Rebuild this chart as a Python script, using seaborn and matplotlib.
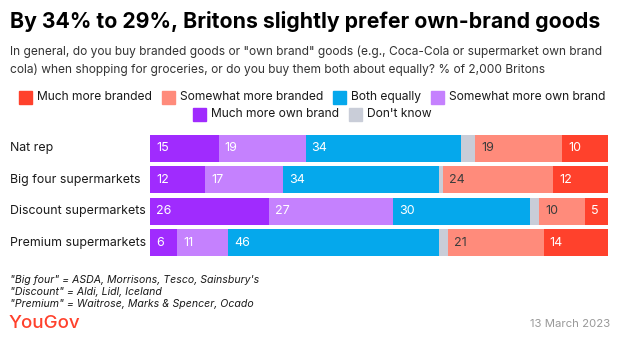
import matplotlib
matplotlib.use("Agg")
import matplotlib.pyplot as plt
import seaborn as sns
import numpy as np
import pandas as pd
from matplotlib.patches import Rectangle

sns.set_theme(style="white")
plt.rcParams["font.family"] = ["Inter", "DejaVu Sans"]

# ---- data -------------------------------------------------------------
groups = ["Nat rep", "Big four supermarkets", "Discount supermarkets", "Premium supermarkets"]
much_own = [15, 12, 26, 6]
somewhat_own = [19, 17, 27, 11]
both_equally = [34, 34, 30, 46]
dont_know = [3, 1, 2, 2]
somewhat_branded = [19, 24, 10, 21]
much_branded = [10, 12, 5, 14]

# stacking order, left to right
segments = [
    ("Much more own brand", much_own, "#A02BFE", "white"),
    ("Somewhat more own brand", somewhat_own, "#C581FE", "white"),
    ("Both equally", both_equally, "#05A8EC", "white"),
    ("Don't know", dont_know, "#C9CDD8", None),
    ("Somewhat more branded", somewhat_branded, "#FF8B7B", "#3C3C3C"),
    ("Much more branded", much_branded, "#FF412C", "white"),
]
legend_rows = [
    ["Much more branded", "Somewhat more branded", "Both equally", "Somewhat more own brand"],
    ["Much more own brand", "Don't know"],
]

W, H = 620, 344
fig = plt.figure(figsize=(W / 100, H / 100), dpi=100)


def fx(x):
    return x / W


def fy(y):
    return 1 - y / H


# ---- stacked bars -----------------------------------------------------
ax = fig.add_axes([fx(150), fy(258.5), fx(608) - fx(150), (258.5 - 132.5) / H])
df = pd.DataFrame({"group": groups})
cum = np.zeros(len(groups))
starts = []
for name, vals, color, _ in segments:
    starts.append(cum.copy())
    cum = cum + np.array(vals)
    df[name] = cum

# draw cumulative totals from the widest down so each segment shows its own span
for name, vals, color, _ in reversed(segments):
    sns.barplot(data=df, x=name, y="group", color=color, width=0.85,
                saturation=1, ax=ax, orient="h", edgecolor="none", linewidth=0)

for (name, vals, color, tcolor), st in zip(segments, starts):
    if tcolor is None:
        continue
    for i, v in enumerate(vals):
        ax.text(st[i] + 1.3, i, f"{v}", color=tcolor, fontsize=9,
                va="center", ha="left")

ax.set_xlim(0, 100)
ax.set_ylim(3.5, -0.5)
ax.set_xlabel("")
ax.set_ylabel("")
ax.set_xticks([])
ax.set_yticks([])
for s in ax.spines.values():
    s.set_visible(False)
ax.patch.set_alpha(0)

for i, g in enumerate(groups):
    fig.text(fx(10), fy(148.25 + i * 31.5), g, fontsize=8.9, color="#1A1A1A",
             va="center", ha="left")

# ---- titles -----------------------------------------------------------
fig.text(fx(10), fy(21), "By 34% to 29%, Britons slightly prefer own-brand goods",
         fontsize=15.3, fontweight="bold", color="#000000", va="center", ha="left")
fig.text(fx(10), fy(52), 'In general, do you buy branded goods or "own brand" goods (e.g., Coca-Cola or supermarket own brand',
         fontsize=8.6, color="#333333", va="center", ha="left")
fig.text(fx(10), fy(70), "cola) when shopping for groceries, or do you buy them both about equally? % of 2,000 Britons",
         fontsize=8.6, color="#333333", va="center", ha="left")

# ---- legend (two centred rows) ---------------------------------------
colors = {name: color for name, _, color, _ in segments}
fig.canvas.draw()
renderer = fig.canvas.get_renderer()
sw = 13
gap_txt = 5
gap_item = 10
row_y = [97, 114]
for row, yy in zip(legend_rows, row_y):
    texts = []
    widths = []
    for name in row:
        t = fig.text(0, fy(yy), name, fontsize=8.7, color="#1A1A1A", va="center", ha="left")
        bb = t.get_window_extent(renderer)
        texts.append(t)
        widths.append(bb.width)
    total = sum(sw + gap_txt + w for w in widths) + gap_item * (len(row) - 1)
    x = (W - total) / 2 + 2
    for name, t, w in zip(row, texts, widths):
        fig.patches.append(Rectangle((fx(x), fy(yy + sw / 2)), sw / W, sw / H,
                                     transform=fig.transFigure, color=colors[name]))
        t.set_x(fx(x + sw + gap_txt))
        x += sw + gap_txt + w + gap_item

# ---- notes and footer -------------------------------------------------
notes = ['"Big four" = ASDA, Morrisons, Tesco, Sainsbury\'s',
         '"Discount" = Aldi, Lidl, Iceland',
         '"Premium" = Waitrose, Marks & Spencer, Ocado']
for i, n in enumerate(notes):
    fig.text(fx(10), fy(280 + i * 12), n, fontsize=7.6, style="italic",
             color="#1A1A1A", va="center", ha="left")

fig.text(fx(9), fy(324), "YouGov", fontsize=13.5, color="#FF412C",
         va="center", ha="left", fontweight="medium")
fig.text(fx(610), fy(324), "13 March 2023", fontsize=8.2, color="#999999",
         va="center", ha="right")

fig.savefig("out.png", dpi=100, facecolor="white")
